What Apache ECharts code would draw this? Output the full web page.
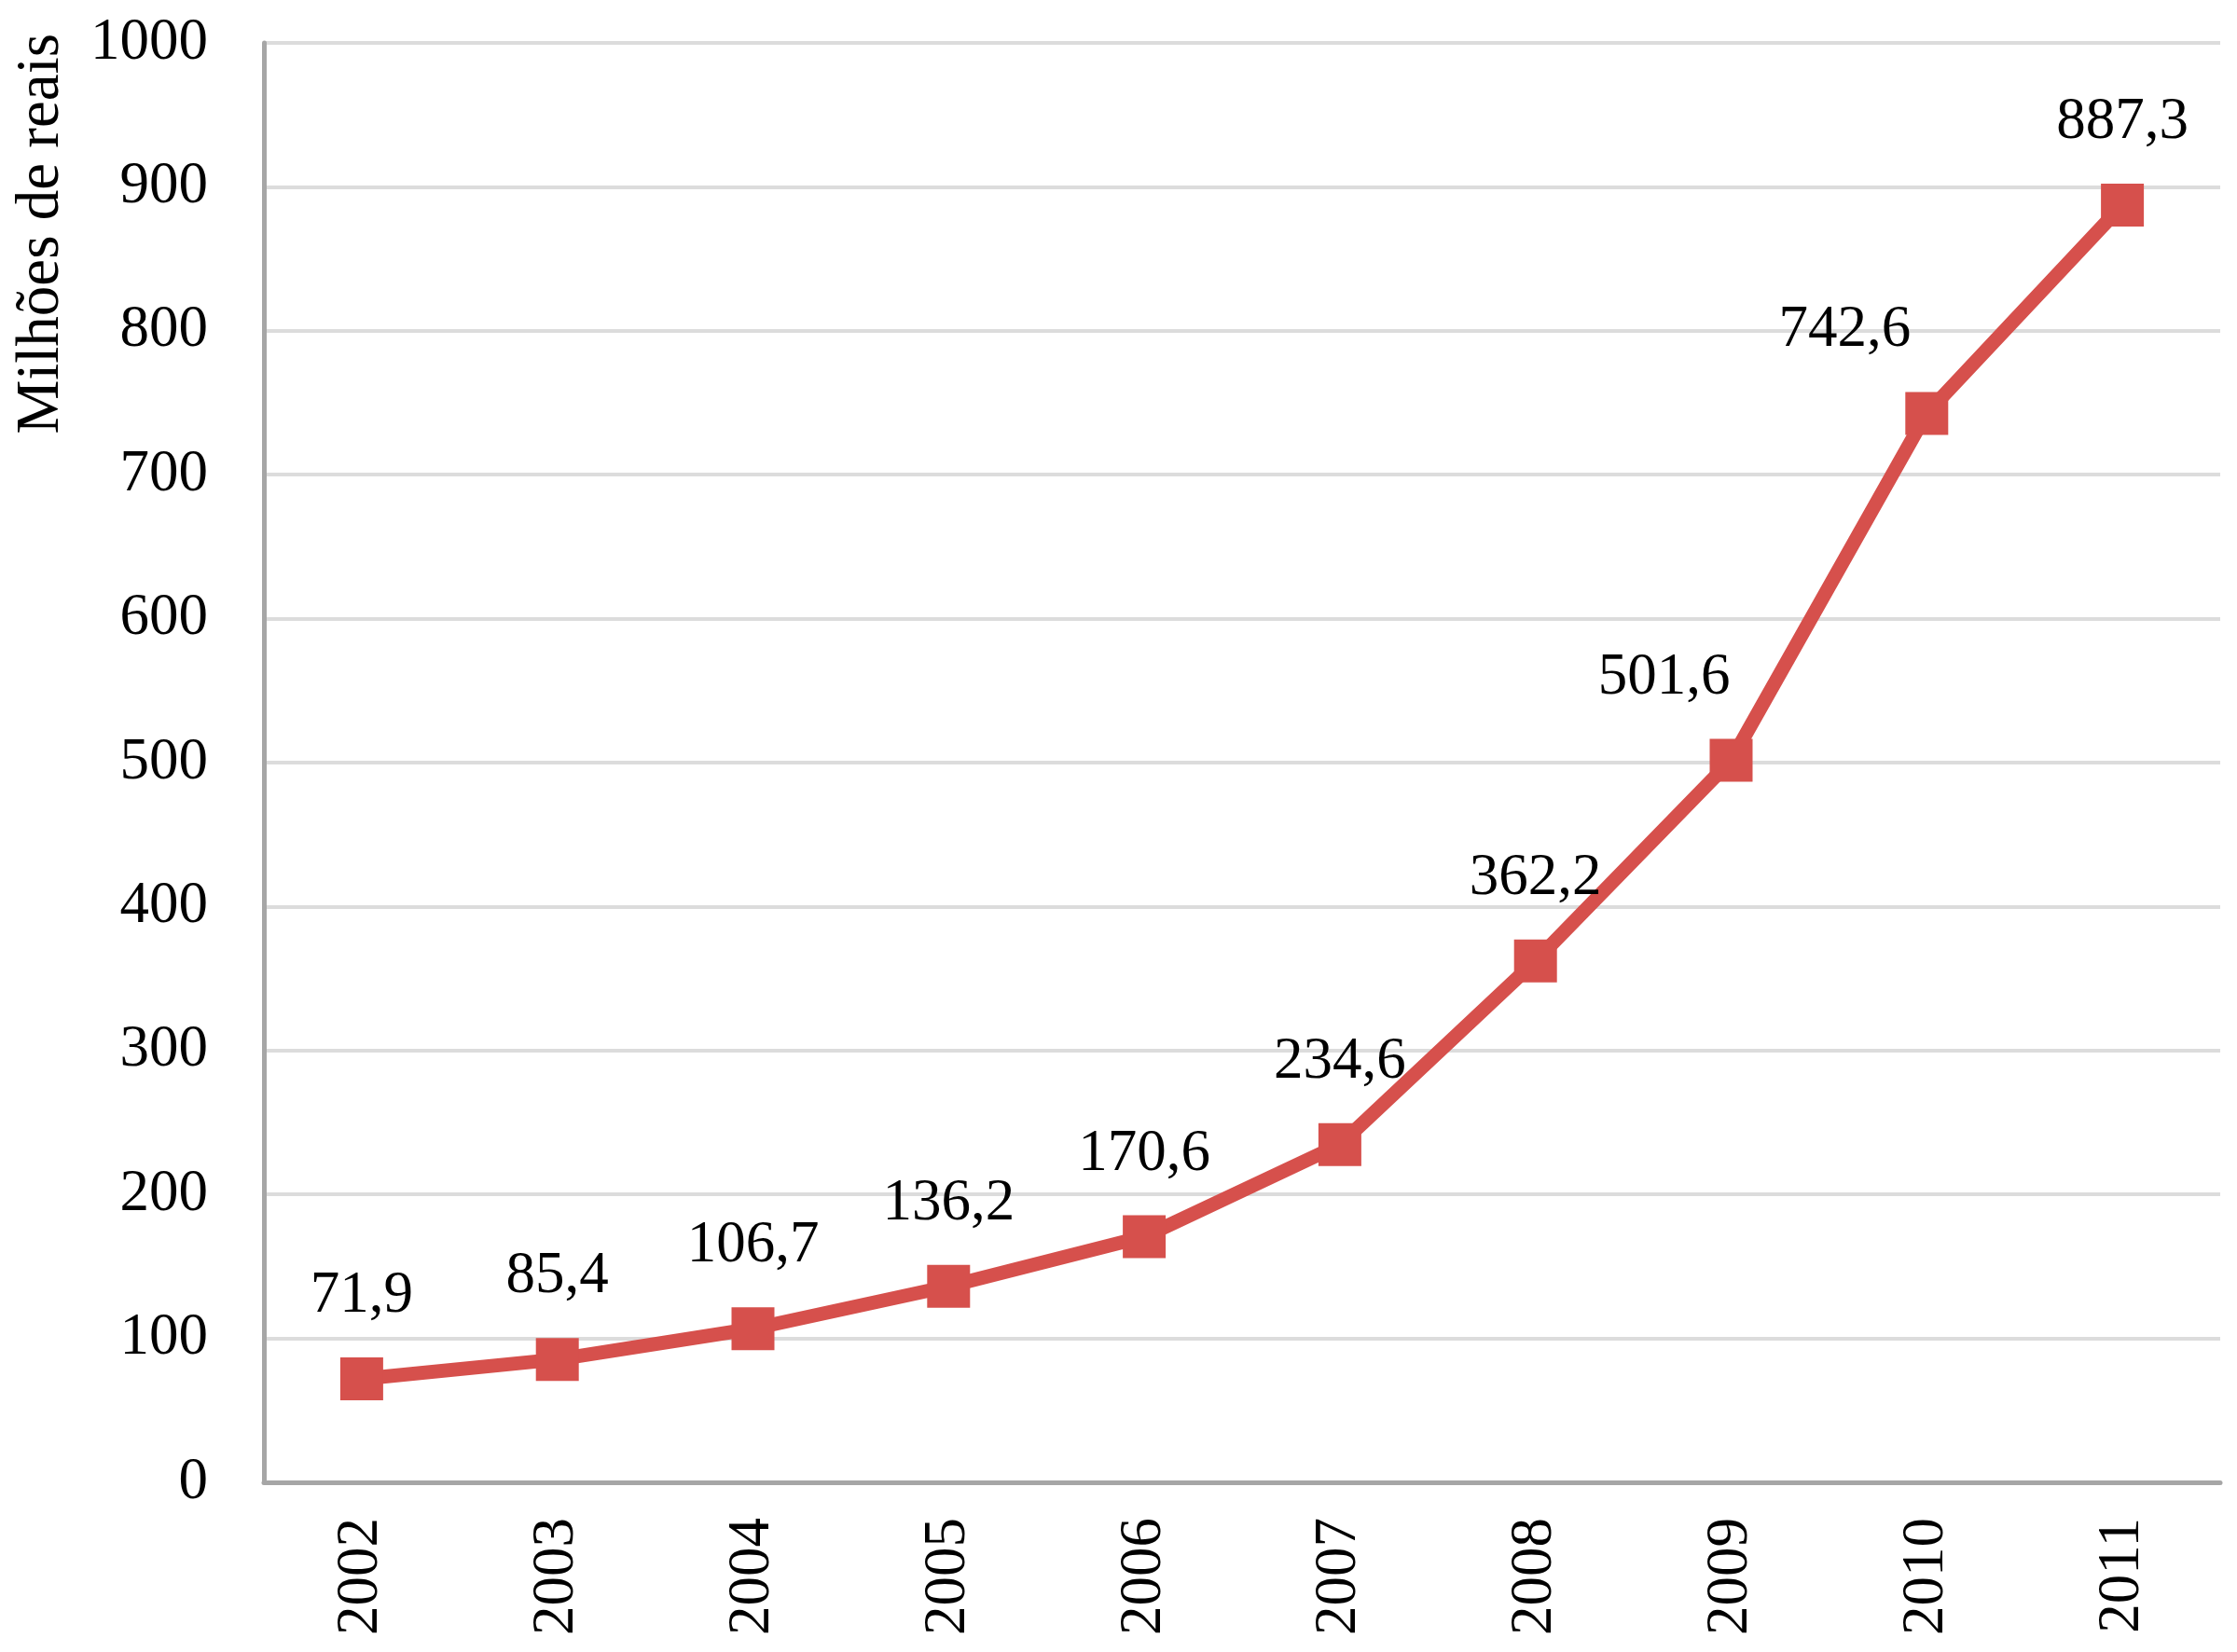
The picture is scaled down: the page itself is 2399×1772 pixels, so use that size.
<!DOCTYPE html>
<html>
<head>
<meta charset="utf-8">
<script src="https://cdn.jsdelivr.net/npm/echarts@6/dist/echarts.min.js"></script>
<style>
  html, body { margin: 0; padding: 0; background: #fff; }
  #chart { width: 2399px; height: 1772px; }
</style>
</head>
<body>
<div id="chart"></div>
<script>
// anos e valores (milhões de reais)
var anos = ['2002', '2003', '2004', '2005', '2006', '2007', '2008', '2009', '2010', '2011'];
var valores = [71.9, 85.4, 106.7, 136.2, 170.6, 234.6, 362.2, 501.6, 742.6, 887.3];
var eixoY = { min: 0, max: 1000, interval: 100 };
var tituloY = 'Milhões de reais';

var fonte = 'Liberation Serif, Times New Roman, serif';
var vermelho = '#d6504c';

// rótulos de 2009 e 2010 ficam deslocados para a esquerda
var deslocados = { 7: [-72, 0], 8: [-88, 0] };

var pontos = valores.map(function (v, i) {
    var item = { value: v };
    if (deslocados[i]) {
        item.label = { offset: deslocados[i] };
    }
    return item;
});

var chart = echarts.init(document.getElementById('chart'));

var option = {
    backgroundColor: '#fff',
    animation: false,
    grid: { left: 283, right: 18, top: 46, bottom: 182 },
    xAxis: {
        type: 'category',
        data: anos,
        boundaryGap: true,
        axisLine: { lineStyle: { color: '#a6a6a6', width: 5 } },
        axisTick: { show: false },
        axisLabel: {
            rotate: 90,
            margin: 38,
            color: '#000',
            fontFamily: fonte,
            fontSize: 63
        }
    },
    yAxis: {
        type: 'value',
        min: eixoY.min,
        max: eixoY.max,
        interval: eixoY.interval,
        axisLine: { show: true, lineStyle: { color: '#a6a6a6', width: 5 } },
        axisTick: { show: false },
        splitLine: { lineStyle: { color: '#dcdcdc', width: 4 } },
        axisLabel: {
            margin: 60,
            color: '#000',
            fontFamily: fonte,
            fontSize: 63,
            formatter: function (v) { return String(v); }
        }
    },
    graphic: [{
        type: 'text',
        left: 12,
        top: 36,
        rotation: Math.PI / 2,
        style: {
            text: tituloY,
            fill: '#000',
            font: '65px ' + fonte
        }
    }],
    series: [{
        type: 'line',
        data: pontos,
        lineStyle: { color: vermelho, width: 15 },
        itemStyle: { color: vermelho },
        symbol: 'rect',
        symbolSize: 46,
        label: {
            show: true,
            position: 'top',
            distance: 34,
            color: '#000',
            fontFamily: fonte,
            fontSize: 63,
            formatter: function (p) {
                return p.value.toFixed(1).replace('.', ',');
            }
        }
    }]
};

chart.setOption(option);
</script>
</body>
</html>
